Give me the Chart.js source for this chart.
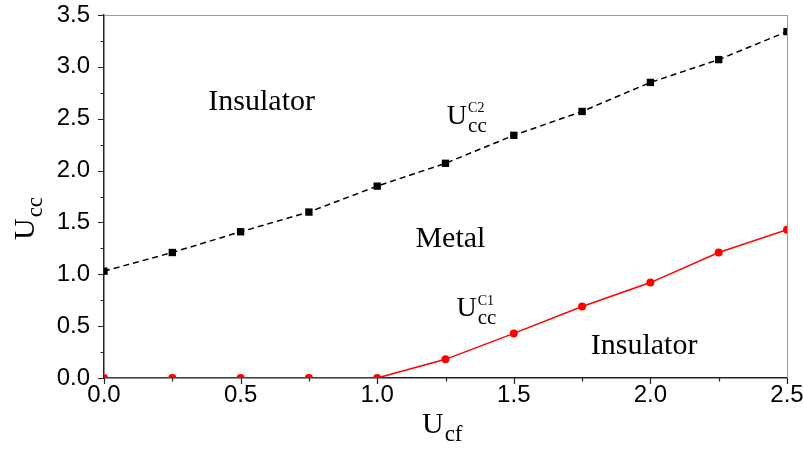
<!DOCTYPE html>
<html>
<head>
<meta charset="utf-8">
<script src="https://cdn.jsdelivr.net/npm/chart.js@4.4.1/dist/chart.umd.min.js"></script>
<style>
  html, body { margin: 0; padding: 0; background: #fff; }
  #wrap { width: 803px; height: 450px; }
</style>
</head>
<body>
<div id="wrap"><canvas id="phaseChart" width="803" height="450"></canvas></div>
<script>
// data
const uCf    = [0, 0.25, 0.5, 0.75, 1.0, 1.25, 1.5, 1.75, 2.0, 2.25, 2.5];
const uccC2  = [1.03, 1.21, 1.41, 1.60, 1.85, 2.07, 2.34, 2.57, 2.85, 3.07, 3.34];
const uccC1  = [0, 0, 0, 0, 0, 0.18, 0.43, 0.69, 0.92, 1.21, 1.43];
const xTickValues = [0, 0.5, 1.0, 1.5, 2.0, 2.5];
const yTickValues = [0, 0.5, 1.0, 1.5, 2.0, 2.5, 3.0, 3.5];
const regionNames = ['Insulator', 'Metal', 'Insulator'];

const SERIF = '"Liberation Serif", "Times New Roman", serif';
const SANS  = '"Liberation Sans", Arial, sans-serif';
const AXIS  = '#222';

const toXY = (xs, ys) => xs.map((x, i) => ({ x, y: ys[i] }));

// U with sub/superscript, drawn left-aligned at (x, y) baseline
function drawU(ctx, x, y, size, sub, sup) {
  ctx.font = `${size}px ${SERIF}`;
  ctx.fillText('U', x, y);
  const w = ctx.measureText('U').width;
  ctx.font = `${Math.round(size * 0.75)}px ${SERIF}`;
  ctx.fillText(sub, x + w + 1, y + size * 0.28);
  if (sup) {
    ctx.font = `${Math.round(size * 0.5)}px ${SERIF}`;
    ctx.fillText(sup, x + w + 1, y - size * 0.42);
  }
}

const decor = {
  id: 'decor',
  afterDraw(chart) {
    const { ctx, chartArea: a, scales: { x, y } } = chart;
    ctx.save();

    // frame top/right
    ctx.strokeStyle = '#999';
    ctx.lineWidth = 1;
    ctx.beginPath();
    ctx.moveTo(a.left, a.top + 0.5);
    ctx.lineTo(a.right + 0.5, a.top + 0.5);
    ctx.lineTo(a.right + 0.5, a.bottom);
    ctx.stroke();

    // outward ticks, major every 0.5, minor every 0.25
    ctx.strokeStyle = AXIS;
    ctx.lineWidth = 1.2;
    ctx.beginPath();
    for (let v = 0; v <= 2.5001; v += 0.25) {
      const px = Math.round(x.getPixelForValue(v)) + 0.5;
      const len = Math.abs(v / 0.5 - Math.round(v / 0.5)) < 1e-6 ? 6 : 3.5;
      ctx.moveTo(px, a.bottom);
      ctx.lineTo(px, a.bottom + len);
    }
    for (let v = 0; v <= 3.5001; v += 0.25) {
      const py = Math.round(y.getPixelForValue(v)) + 0.5;
      const len = Math.abs(v / 0.5 - Math.round(v / 0.5)) < 1e-6 ? 6 : 3.5;
      ctx.moveTo(a.left, py);
      ctx.lineTo(a.left - len, py);
    }
    ctx.stroke();

    ctx.fillStyle = '#000';
    ctx.textBaseline = 'alphabetic';

    // region names
    ctx.textAlign = 'center';
    ctx.font = `30px ${SERIF}`;
    ctx.fillText(regionNames[0], x.getPixelForValue(0.577), y.getPixelForValue(2.58));
    ctx.fillText(regionNames[1], x.getPixelForValue(1.268), y.getPixelForValue(1.26));
    ctx.fillText(regionNames[2], x.getPixelForValue(1.977), y.getPixelForValue(0.236));

    // curve labels
    ctx.textAlign = 'left';
    drawU(ctx, x.getPixelForValue(1.255), y.getPixelForValue(2.447), 28, 'cc', 'C2');
    drawU(ctx, x.getPixelForValue(1.29), y.getPixelForValue(0.594), 28, 'cc', 'C1');

    // axis titles
    drawU(ctx, 422, 433, 30, 'cf');
    ctx.translate(34, 240);
    ctx.rotate(-Math.PI / 2);
    drawU(ctx, 0, 0, 30, 'cc');

    ctx.restore();
  }
};

new Chart(document.getElementById('phaseChart').getContext('2d'), {
  type: 'scatter',
  data: {
    datasets: [
      {
        label: 'Ucc C2',
        data: toXY(uCf, uccC2),
        showLine: true,
        borderColor: '#000',
        backgroundColor: '#000',
        borderWidth: 1.5,
        borderDash: [6, 4],
        pointStyle: 'rect',
        pointRadius: 5.2,
        pointBorderWidth: 0
      },
      {
        label: 'Ucc C1',
        data: toXY(uCf, uccC1),
        showLine: true,
        borderColor: '#f00',
        backgroundColor: '#f00',
        borderWidth: 1.5,
        pointStyle: 'circle',
        pointRadius: 4,
        pointBorderWidth: 0
      }
    ]
  },
  options: {
    responsive: false,
    animation: false,
    layout: { padding: 0 },
    plugins: { legend: { display: false }, tooltip: { enabled: false } },
    scales: {
      x: {
        type: 'linear',
        min: 0, max: 2.5,
        afterFit: s => { s.height = 72; s.paddingLeft = 0; s.paddingRight = 16; },
        afterBuildTicks: s => { s.ticks = xTickValues.map(value => ({ value })); },
        grid: { display: false, drawTicks: false },
        border: { display: true, color: AXIS, width: 1.5 },
        ticks: {
          padding: 3,
          color: '#000',
          font: { family: SANS, size: 24 },
          maxRotation: 0,
          callback: v => v.toFixed(1)
        }
      },
      y: {
        type: 'linear',
        min: 0, max: 3.5,
        afterFit: s => { s.width = 104; s.paddingTop = 15; s.paddingBottom = 0; },
        afterBuildTicks: s => { s.ticks = yTickValues.map(value => ({ value })); },
        grid: { display: false, drawTicks: false },
        border: { display: true, color: AXIS, width: 1.5 },
        ticks: {
          padding: 14,
          color: '#000',
          font: { family: SANS, size: 24 },
          callback: v => v.toFixed(1)
        }
      }
    }
  },
  plugins: [decor]
});
</script>
</body>
</html>
